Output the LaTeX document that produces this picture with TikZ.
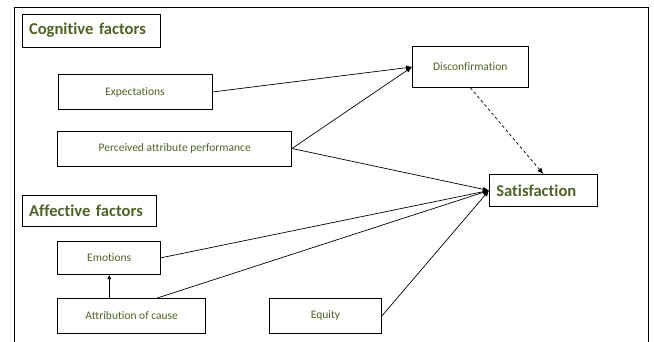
\documentclass[tikz,border=0pt]{standalone}
\usepackage{fontspec}
\setmainfont{Carlito}[Ligatures=NoCommon]
\usepackage{xcolor}
\usepackage{tikz}
\usetikzlibrary{arrows.meta}
\definecolor{olivetext}{RGB}{79,98,40}
\tikzset{factor/.style={draw, line width=0.6pt, inner sep=0pt,
           text=olivetext, font=\fontsize{11.5}{13}\selectfont},
         heading/.style={draw, line width=0.6pt, inner xsep=7pt, align=left,
           text=olivetext, font=\fontsize{16.6}{19}\selectfont\bfseries},
         link/.style={->, line width=0.7pt}}

\begin{document}
\begin{tikzpicture}[x=1pt, y=-1pt, >={Latex[length=6pt,width=5pt]}]
\useasboundingbox (0,0) rectangle (654,341);
\clip (0,0) rectangle (654,341);
% outer frame, runs past the lower edge
\draw[line width=0.8pt] (14,7) rectangle (648,360);

% cognitive side
\node[heading, minimum height=33pt, text width=124pt] (cog) at (91,30.5) {Cognitive factors};
\node[factor, minimum width=154pt, minimum height=34.5pt] (expect) at (135,92) {Expectations};
\node[factor, minimum width=234pt, minimum height=35pt] (perf) at (174.7,148.5) {Perceived attribute performance};
\node[factor, minimum width=116pt, minimum height=40.7pt] (disc) at (470.3,67) {Disconfirmation};
\node[heading, minimum height=32.4pt, text width=94pt] (sat) at (543.3,190.5) {Satisfaction};

% affective side
\node[heading, minimum height=31pt, text width=120pt] (aff) at (89,210.5) {Affective factors};
\node[factor, minimum width=103pt, minimum height=33pt] (emo) at (109.2,257.8) {Emotions};
\node[factor, minimum width=148pt, minimum height=35pt] (attr) at (131.7,315.8) {Attribution of cause};
\node[factor, minimum width=112.4pt, minimum height=35pt] (equity) at (325.5,315.8) {Equity};

\draw[link] (expect.east) -- (disc.west);
\draw[link] (perf.east) -- (disc.west);
\draw[link] (perf.east) -- (sat.west);
\draw[link] (emo.east) -- (sat.west);
\draw[link] ([xshift=25.6pt]attr.north) -- (sat.west);
\draw[link] (equity.east) -- (sat.west);
\draw[->, line width=0.7pt, >={Latex[length=4.5pt,width=4pt]}] (attr.north -| emo.south) -- (emo.south);
\draw[link, dash pattern=on 3pt off 2.5pt] (disc.south) -- (sat.north);
\end{tikzpicture}
\end{document}
